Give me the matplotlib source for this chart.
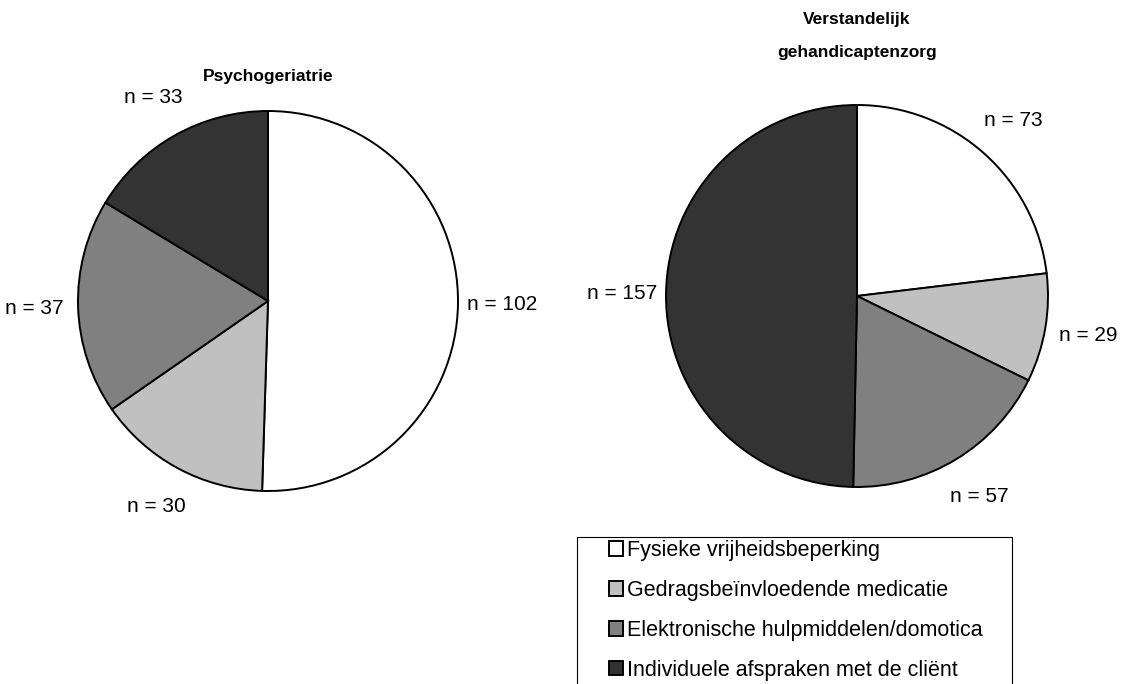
import matplotlib.pyplot as plt
from matplotlib.patches import Rectangle

plt.rcParams['font.family'] = ['Liberation Sans', 'DejaVu Sans']

categories = ['Fysieke vrijheidsbeperking', 'Gedragsbeïnvloedende medicatie',
              'Elektronische hulpmiddelen/domotica', 'Individuele afspraken met de cliënt']
psycho_values = [102, 30, 37, 33]
vg_values = [73, 29, 57, 157]
titles = ['Psychogeriatrie', 'Verstandelijk\ngehandicaptenzorg']
colors = ['#ffffff', '#c0c0c0', '#808080', '#333333']

W, H = 1126, 684
fig = plt.figure(figsize=(W / 100, H / 100), dpi=100)
ax = fig.add_axes([0, 0, 1, 1])

wedge_style = dict(edgecolor='black', linewidth=1.4)

# left pie (pixel coordinates, y up)
wl, tl = ax.pie(psycho_values, colors=colors, startangle=90, counterclock=False,
                center=(268, H - 301), radius=190, wedgeprops=wedge_style,
                labels=['n = %d' % v for v in psycho_values], labeldistance=1.23,
                textprops=dict(fontsize=15))
# right pie
wr, tr = ax.pie(vg_values, colors=colors, startangle=90, counterclock=False,
                center=(857, H - 296), radius=191, wedgeprops=wedge_style,
                labels=['n = %d' % v for v in vg_values], labeldistance=1.23,
                textprops=dict(fontsize=15))
for t in tl + tr:
    t.set_ha('center')

ax.set_xlim(0, W)
ax.set_ylim(0, H)
ax.set_aspect('equal')
ax.axis('off')

ax.text(268, H - 76, titles[0], ha='center', va='center', fontsize=12.5, fontweight='bold')
ax.text(857, H - 36, titles[1], ha='center', va='center', fontsize=12.5, fontweight='bold',
        linespacing=2.5)

# legend box
ax.add_patch(Rectangle((577, -10), 1012 - 577, H - 537 + 10, facecolor='white',
                       edgecolor='black', linewidth=0.8, zorder=3))
leg = ax.legend(wl, categories, loc='upper left', bbox_to_anchor=(606 / W, 1 - 537 / H),
                bbox_transform=fig.transFigure, frameon=False, fontsize=15.5,
                handlelength=0.65, handleheight=0.65, handletextpad=0.2,
                labelspacing=0.88, borderpad=0.14, borderaxespad=0)
leg.set_zorder(4)

fig.savefig('out.png', dpi=100)
